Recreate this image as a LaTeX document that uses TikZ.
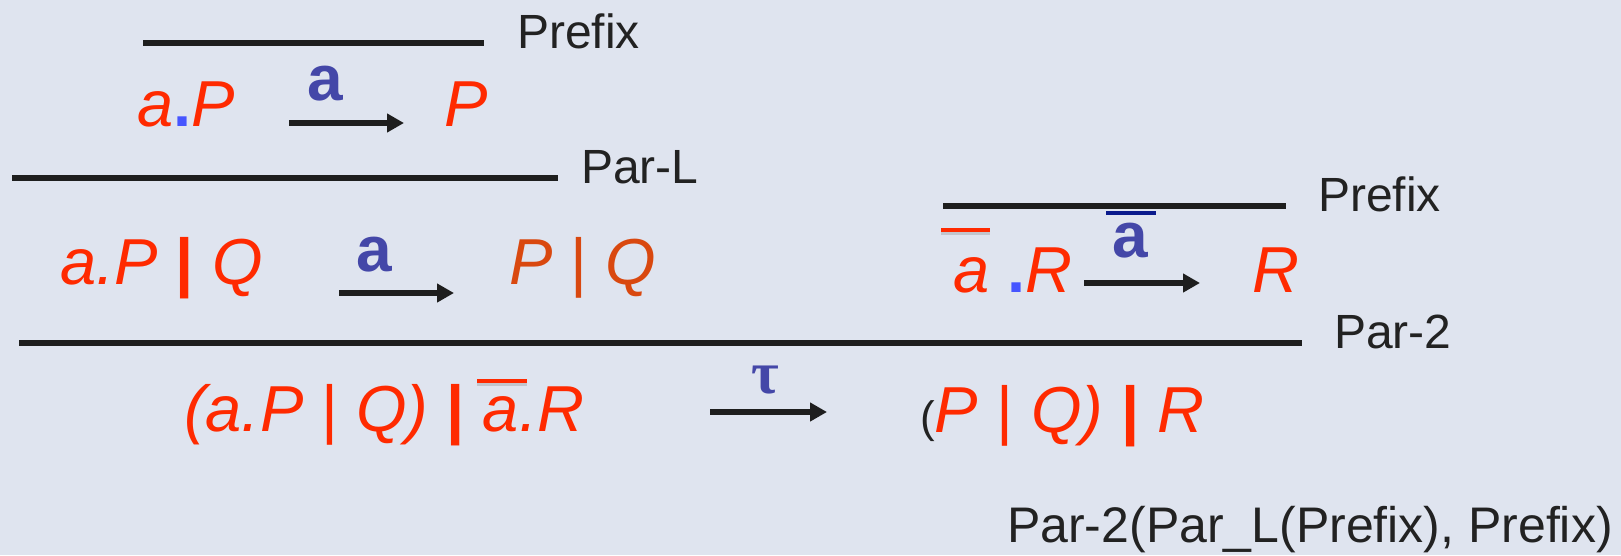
\documentclass[tikz,border=0pt]{standalone}
\usepackage{fontspec}
\setmainfont{Liberation Sans}
\newfontfamily\greekfont{Liberation Serif}
\usetikzlibrary{arrows.meta}

\definecolor{slidebg}{HTML}{DFE4EF}
\definecolor{rulegray}{HTML}{1E1E1E}
\definecolor{labelgray}{HTML}{222222}
\definecolor{termred}{HTML}{FF2A00}
\definecolor{termorange}{HTML}{D9480F}
\definecolor{actblue}{HTML}{4447A8}
\definecolor{dotblue}{HTML}{4655FF}
\definecolor{barblue}{HTML}{0A1A8C}

\newcommand{\thinbar}{{\upshape|}}
\newcommand{\thickbar}{{\upshape\bfseries|}}
\newcommand{\bluedot}{{\upshape\bfseries\color{dotblue}.}}

\tikzset{
  rule/.style={line width=6pt, draw=rulegray},
  trans/.style={-{Triangle[length=17pt,width=18pt]}, line width=6.5pt, draw=rulegray},
  rulename/.style={text=labelgray, font=\fontsize{48}{52}\selectfont, anchor=base west, inner sep=0pt},
  term/.style={text=termred, font=\fontsize{65}{70}\selectfont\itshape, anchor=base west, inner sep=0pt},
  act/.style={text=actblue, font=\fontsize{64}{68}\selectfont\bfseries, anchor=base, inner sep=0pt},
  overbar/.style={line width=4.5pt, draw=termred},
  barshadow/.style={line width=4.5pt, draw=gray, opacity=.3},
}

\begin{document}
\begin{tikzpicture}[x=1pt, y=-1pt]
  \useasboundingbox[fill=slidebg] (0,0) rectangle (1621,555);

  % Prefix for a.P
  \draw[rule] (143,43) -- (484,43);
  \node[rulename] (prefixA) at (517,48) {Prefix};
  \node[term] (aP) at (137,126) {a\bluedot P};
  \coordinate (t1s) at (289,123);
  \coordinate (t1e) at (404,123);
  \draw[trans] (t1s) -- (t1e);
  \node[act] (actA) at (325,100) {a};
  \node[term] (P) at (444,126) {P};

  % Par-L
  \draw[rule] (12,178) -- (558,178);
  \node[rulename] (parL) at (581,183) {Par-L};
  \node[term] (aPQ) at (60,284) {a.P \thickbar{} Q};
  \coordinate (t2s) at (339,293);
  \coordinate (t2e) at (454,293);
  \draw[trans] (t2s) -- (t2e);
  \node[act] (actB) at (374,271) {a};
  \node[term, text=termorange] (PQ) at (509,284) {P \thinbar{} Q};

  % Prefix for co-a.R
  \draw[rule] (943,206) -- (1286,206);
  \node[rulename] (prefixB) at (1318,211) {Prefix};
  \draw[barshadow] (941,233) -- (990,233);
  \draw[overbar] (941,230) -- (990,230);
  \node[term] (coaR) at (953,292) {a \bluedot R};
  \coordinate (t3s) at (1084,283);
  \coordinate (t3e) at (1200,283);
  \draw[trans] (t3s) -- (t3e);
  \draw[line width=4.5pt, draw=barblue] (1106,213) -- (1156,213);
  \node[act] (actC) at (1130,257) {a};
  \node[term] (R) at (1252,292) {R};

  % Par-2
  \draw[rule] (19,343) -- (1302,343);
  \node[rulename] (par2) at (1334,348) {Par-2};
  \node[term] (lhs) at (184,431) {(a.P \thinbar{} Q) \thickbar{} a.R};
  \draw[barshadow] (477,384) -- (527,384);
  \draw[overbar] (477,381) -- (527,381);
  \coordinate (t4s) at (710,412);
  \coordinate (t4e) at (827,412);
  \draw[trans] (t4s) -- (t4e);
  \node[act, font=\fontsize{60}{64}\selectfont\greekfont\bfseries] (tau) at (765,393) {τ};
  \node[term] (rhs) at (920,432) {{\color{labelgray}\upshape\fontsize{44}{48}\selectfont(}P \thinbar{} Q) \thickbar{} R};

  % derivation name
  \node[rulename, anchor=base east, font=\fontsize{50}{54}\selectfont] (deriv) at (1613,542) {Par-2(Par\_L(Prefix), Prefix)};
\end{tikzpicture}
\end{document}
